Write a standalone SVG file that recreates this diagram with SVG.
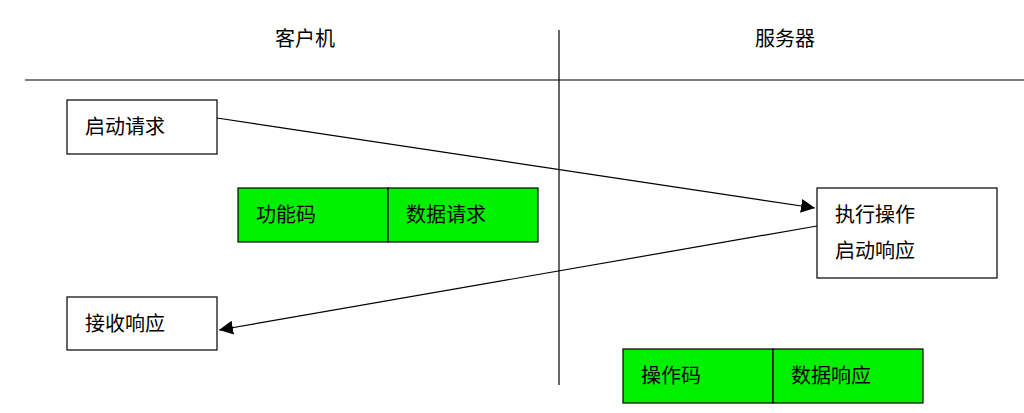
<svg xmlns="http://www.w3.org/2000/svg" width="1024" height="413" viewBox="0 0 1024 413">
<style>
text{font-family:"Liberation Sans","Noto Sans CJK SC",sans-serif;font-size:20px;fill:#000}
.b{fill:#fff;stroke:#000;stroke-width:1.2}
.g{fill:#00f000;stroke:#000;stroke-width:1.2}
.l{stroke:#000;stroke-width:1.2;fill:none}
</style>
<defs><marker id="a" viewBox="0 0 10 10" refX="10" refY="5" markerWidth="14" markerHeight="14" markerUnits="userSpaceOnUse" orient="auto"><path d="M0,0L10,5L0,10z" fill="#000"/></marker></defs>
<rect width="1024" height="413" fill="#fff"/>
<line class="l" x1="25" y1="80" x2="1024" y2="80"/>
<line class="l" x1="559" y1="30" x2="559" y2="385"/>
<text x="305" y="46" text-anchor="middle">客户机</text>
<text x="785" y="46" text-anchor="middle">服务器</text>
<g id="n1"><rect class="b" x="67" y="100" width="150" height="54"/><text x="85" y="134">启动请求</text></g>
<g id="n2"><rect class="b" x="67" y="297" width="150" height="53"/><text x="85" y="331">接收响应</text></g>
<g id="n3"><rect class="b" x="817" y="188" width="180" height="90"/><text x="835" y="222">执行操作</text><text x="835" y="258">启动响应</text></g>
<g id="n4"><rect class="g" x="238" y="188" width="150" height="54"/><rect class="g" x="388" y="188" width="150" height="54"/><text x="256" y="222">功能码</text><text x="406" y="222">数据请求</text></g>
<g id="n5"><rect class="g" x="623" y="349" width="150" height="54"/><rect class="g" x="773" y="349" width="150" height="54"/><text x="641" y="383">操作码</text><text x="791" y="383">数据响应</text></g>
<g id="edges">
<line class="l" x1="217" y1="118" x2="815" y2="208" marker-end="url(#a)"/>
<line class="l" x1="817" y1="226" x2="219" y2="330" marker-end="url(#a)"/>
</g>
</svg>
